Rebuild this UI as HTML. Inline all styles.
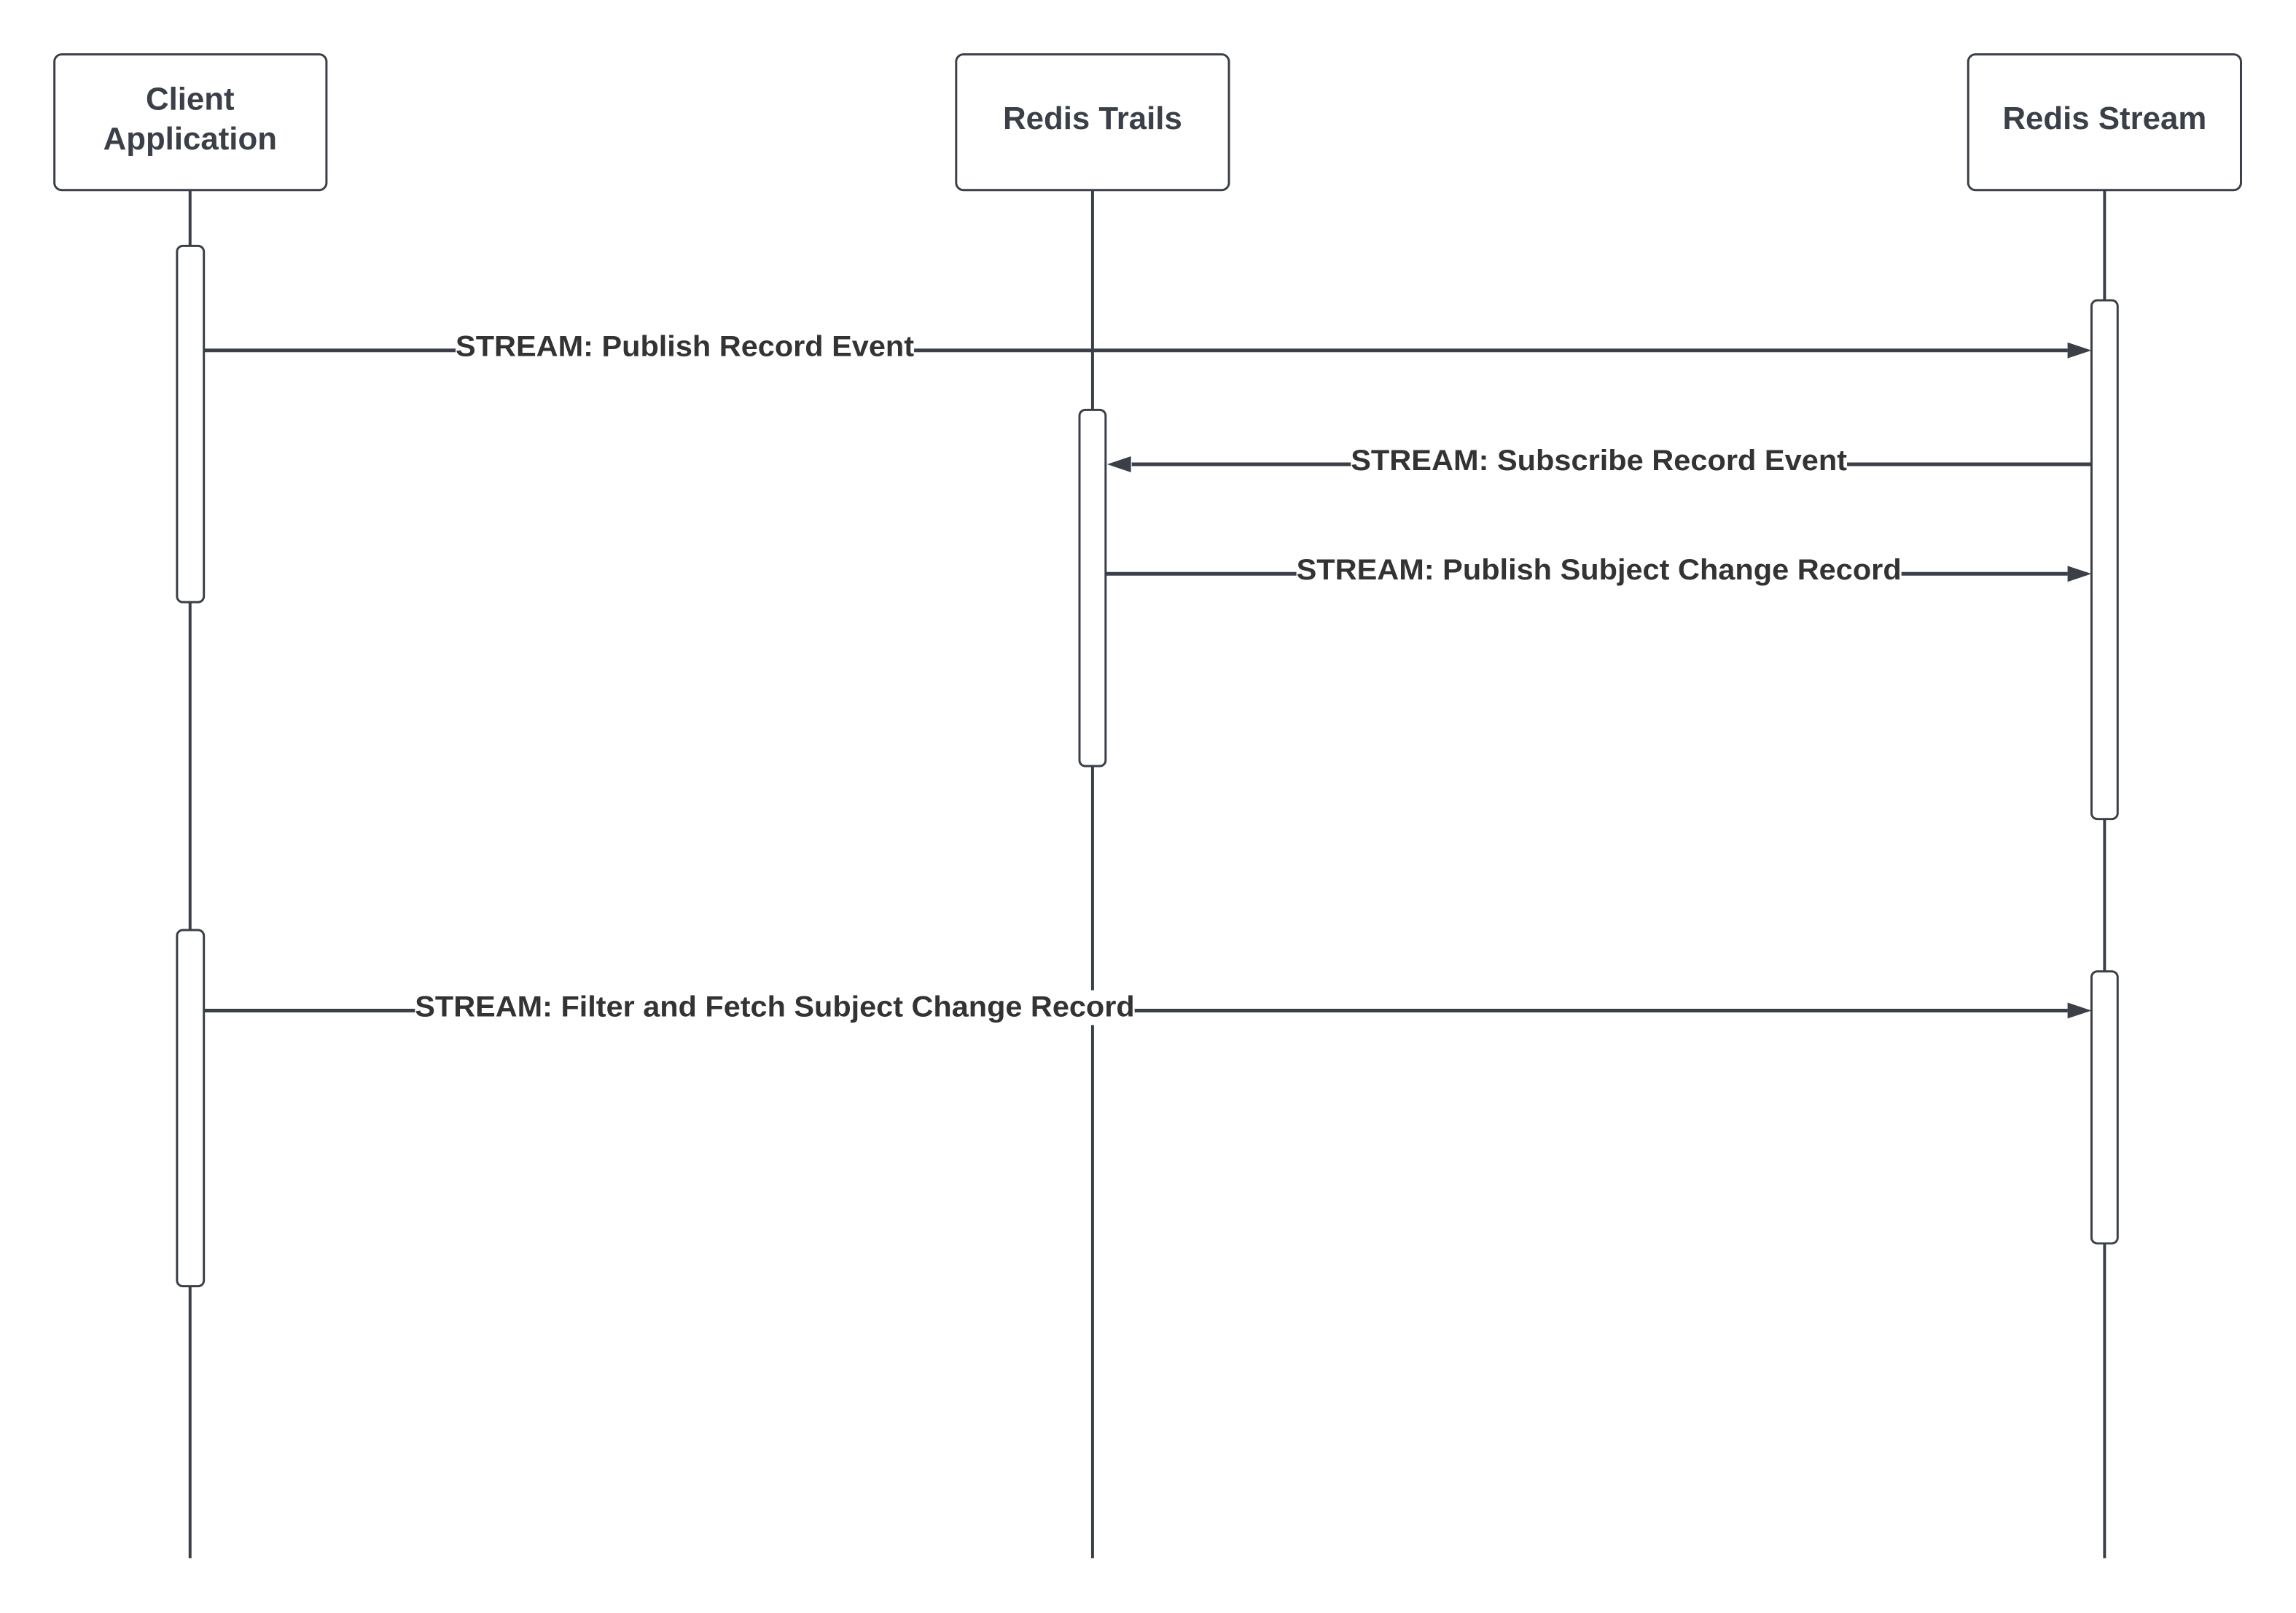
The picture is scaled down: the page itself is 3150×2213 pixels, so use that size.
<!DOCTYPE html>
<html><head><meta charset="utf-8"><style>
html,body{margin:0;padding:0;background:#fff;}
svg{display:block;}
text{font-family:"Liberation Sans",sans-serif;font-weight:bold;}
</style></head><body>
<svg width="3150" height="2213" viewBox="0 0 3150 2213" xmlns="http://www.w3.org/2000/svg">
<rect width="3150" height="2213" fill="#fff"/>
<g transform="scale(0.9953)">
<g stroke="#3a3f48" stroke-width="4" fill="none">
  <line x1="262" y1="262" x2="262" y2="2148"/>
  <line x1="1506" y1="262" x2="1506" y2="2148"/>
  <line x1="2901" y1="262" x2="2901" y2="2148"/>
</g>
<g stroke="#3a3f48" stroke-width="3" fill="#fff">
  <rect x="75" y="75" width="375" height="187" rx="10"/>
  <rect x="1318" y="75" width="376" height="187" rx="10"/>
  <rect x="2713" y="75" width="376" height="187" rx="10"/>
  <rect x="244" y="339" width="37" height="491" rx="8"/>
  <rect x="244" y="1282" width="37" height="491" rx="8"/>
  <rect x="1488" y="565" width="36" height="491" rx="8"/>
  <rect x="2883" y="414" width="36" height="715" rx="8"/>
  <rect x="2883" y="1339" width="36" height="375" rx="8"/>
</g>
<g fill="#3a3f48" font-size="44" text-anchor="middle">
  <text x="262" y="151" fill="#3a3f48">Client</text>
  <text x="262" y="206" fill="#3a3f48">Application</text>
  <text x="1506" y="178" fill="#3a3f48">Redis Trails</text>
  <text x="2901" y="178" fill="#3a3f48">Redis Stream</text>
</g>
<g stroke="#3a3f48" stroke-width="5">
  <line x1="281" y1="483" x2="2850" y2="483"/>
  <line x1="1560" y1="640" x2="2883" y2="640"/>
  <line x1="1524" y1="791" x2="2850" y2="791"/>
  <line x1="281" y1="1393" x2="2850" y2="1393"/>
</g>
<g fill="#3a3f48">
  <polygon points="2883,483 2850,472 2850,494"/>
  <polygon points="1526,640 1559,629 1559,651"/>
  <polygon points="2883,791 2850,780 2850,802"/>
  <polygon points="2883,1393 2850,1382 2850,1404"/>
</g>
<g fill="#fff">
  <rect x="628" y="455" width="632" height="48"/>
  <rect x="1862" y="612" width="684" height="48"/>
  <rect x="1787" y="763" width="834" height="48"/>
  <rect x="572" y="1365" width="992" height="48"/>
</g>
<g fill="#333" font-size="40">
  <text x="628" y="491" textLength="632" lengthAdjust="spacingAndGlyphs">STREAM: Publish Record Event</text>
  <text x="1862" y="648" textLength="684" lengthAdjust="spacingAndGlyphs">STREAM: Subscribe Record Event</text>
  <text x="1787" y="799" textLength="834" lengthAdjust="spacingAndGlyphs">STREAM: Publish Subject Change Record</text>
  <text x="572" y="1401" textLength="992" lengthAdjust="spacingAndGlyphs">STREAM: Filter and Fetch Subject Change Record</text>
</g>
</g>
</svg>
</body></html>
